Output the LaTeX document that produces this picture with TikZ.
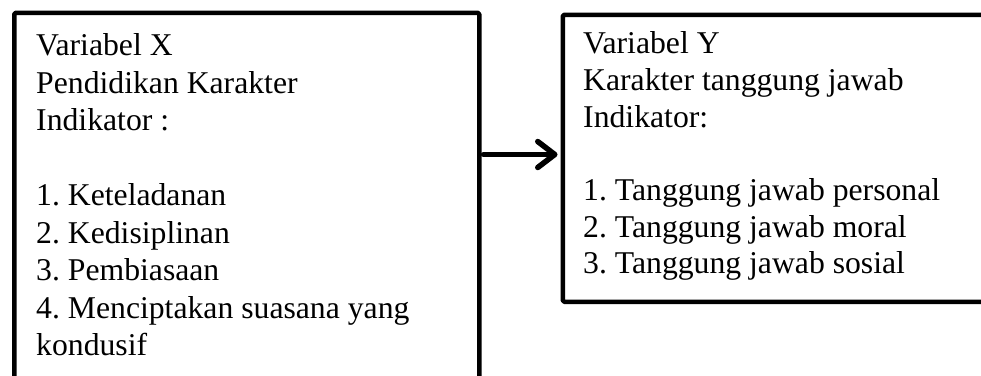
\documentclass[tikz,border=0pt]{standalone}
\usepackage{fontspec}
\setmainfont{Liberation Serif}
\usetikzlibrary{arrows.meta}
\tikzset{
  framebox/.style={draw=black, line width=4.5pt, line join=round, rounded corners=1.5pt,
    inner sep=0pt, anchor=north west},
  boxtext/.style={anchor=north west, inner sep=0pt, align=left,
    font=\fontsize{31.7pt}{37.5pt}\selectfont\frenchspacing},
  linkarrow/.style={line width=5.5pt, line cap=round,
    -{Straight Barb[length=17pt,width=26pt,round]}}
}
\begin{document}
\begin{tikzpicture}[x=1pt,y=1pt]
  \useasboundingbox (0,0) rectangle (981,-375);
  % left frame: variable X
  \node[framebox, minimum width=465pt, minimum height=366pt] (vx) at (12,-10.5) {};
  \node[boxtext] (tx) at (36,-33.5) {Variabel X\\Pendidikan Karakter\\Indikator :\\[37.5pt]
    1. Keteladanan\\2. Kedisiplinan\\3. Pembiasaan\\4. Menciptakan suasana yang\\kondusif};
  % right frame: variable Y
  \node[framebox, minimum width=440pt, minimum height=287pt] (vy) at (560.5,-12.5) {};
  \node[boxtext, font=\fontsize{31.7pt}{36.7pt}\selectfont\frenchspacing] (ty) at (583,-31.5)
    {Variabel Y\\Karakter tanggung jawab\\Indikator:\\[36.7pt]
    1. Tanggung jawab personal\\2. Tanggung jawab moral\\3. Tanggung jawab sosial};
  % influence of X on Y
  \draw[linkarrow] ([xshift=2pt,yshift=-144pt]vx.north east) -- ([xshift=-3pt,yshift=-142pt]vy.north west);
\end{tikzpicture}
\end{document}
